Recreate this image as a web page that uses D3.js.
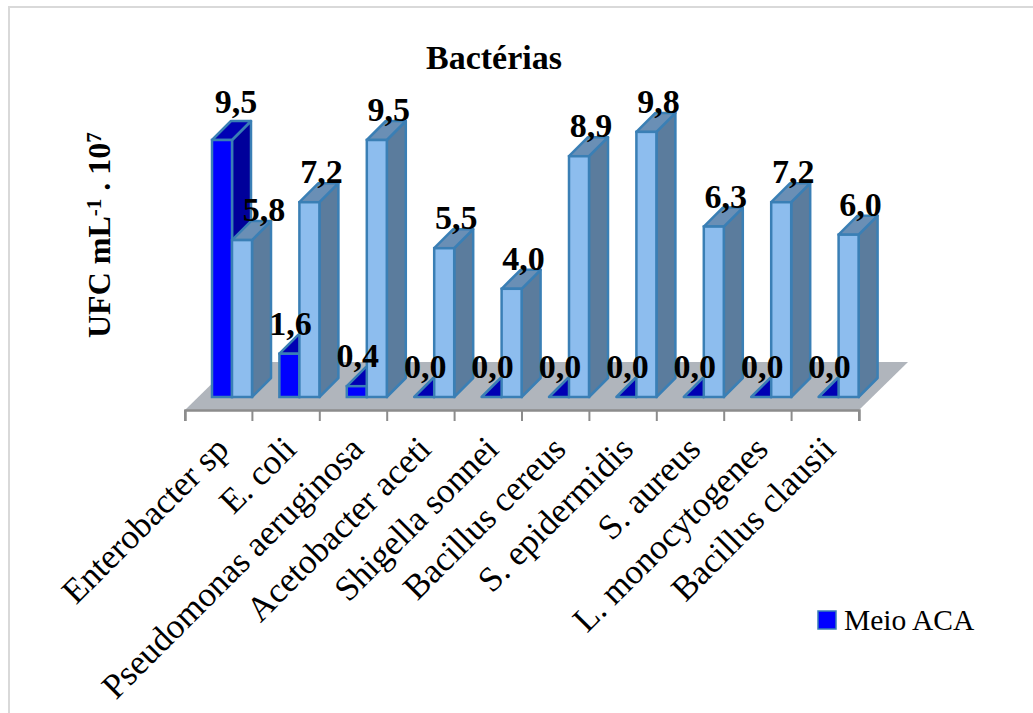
<!DOCTYPE html>
<html>
<head>
<meta charset="utf-8">
<script src="https://cdn.jsdelivr.net/npm/d3@7"></script>
<style>
  body { margin: 0; background: #fff; }
  text { font-family: "Liberation Serif", serif; fill: #000; }
</style>
</head>
<body>
<div class="chart"></div>
<script>
const categories = ['Enterobacter sp', 'E. coli', 'Pseudomonas aeruginosa', 'Acetobacter aceti', 'Shigella sonnei',
  'Bacillus cereus', 'S. epidermidis', 'S. aureus', 'L. monocytogenes', 'Bacillus clausii']
const meioAca = [9.5, 1.6, 0.4, 0, 0, 0, 0, 0, 0, 0]
const segundoMeio = [5.8, 7.2, 9.5, 5.5, 4.0, 8.9, 9.8, 6.3, 7.2, 6.0]

const width = 1033
const height = 713
const depth = { x: 19, y: 19 }
const fmt = v => v.toFixed(1).replace('.', ',')

const svg = d3.select('.chart').append('svg').attr('width', width).attr('height', height)
  .style('display', 'block')

// chart frame, cropped so only the top and left edges show
svg.append('path').attr('d', `M9,${height}V7H${width}`)
  .attr('fill', 'none').attr('stroke', '#d9d9d9').attr('stroke-width', 2)

const x = d3.scaleBand().domain(categories).range([185, 859])
const y = d3.scaleLinear().domain([0, 9.5]).range([397, 140])
const barW = 20

// floor of the 3d plot
const floor = d3.path()
floor.moveTo(185, 410)
floor.lineTo(859, 410)
floor.lineTo(908, 362)
floor.lineTo(234, 362)
floor.closePath()
svg.append('path').attr('d', floor).attr('fill', '#b0b5bc')

const xAxis = d3.axisBottom(x).tickSize(11).tickFormat('').tickValues([])
svg.append('g').attr('transform', 'translate(0,410)').call(xAxis)
  .call(g => g.select('.domain').attr('stroke', '#8c8c8c').attr('stroke-width', 2.5))
  .call(g => g.selectAll('.tk').data(categories.concat(['end'])).join('line').attr('class', 'tk')
    .attr('x1', (d, i) => 185 + i * x.step()).attr('x2', (d, i) => 185 + i * x.step())
    .attr('y1', 0).attr('y2', 11).attr('stroke', '#8c8c8c').attr('stroke-width', 2))

function bar3d(g, x0, value, front, top, side) {
  const yT = y(value)
  const yB = y(0)
  const stroke = '#3a7fb5'
  g.append('polygon')
    .attr('points', [[x0 + barW, yT], [x0 + barW + depth.x, yT - depth.y], [x0 + barW + depth.x, yB - depth.y], [x0 + barW, yB]].join(' '))
    .attr('fill', side).attr('stroke', stroke).attr('stroke-width', 2.5).attr('stroke-linejoin', 'round')
  g.append('polygon')
    .attr('points', [[x0, yT], [x0 + depth.x, yT - depth.y], [x0 + barW + depth.x, yT - depth.y], [x0 + barW, yT]].join(' '))
    .attr('fill', top).attr('stroke', stroke).attr('stroke-width', 2.5).attr('stroke-linejoin', 'round')
  g.append('rect').attr('x', x0).attr('y', yT).attr('width', barW).attr('height', yB - yT)
    .attr('fill', front).attr('stroke', stroke).attr('stroke-width', 2.5)
}

const bars = svg.append('g')
categories.forEach((c, i) => {
  const x0 = x(c) + 27
  bar3d(bars, x0, meioAca[i], '#0000ff', '#0000b4', '#00009a')
  bar3d(bars, x0 + barW, segundoMeio[i], '#8dbdee', '#6a8fb5', '#5b7c9d')
})

// the first two labels were dragged by hand in the original
const labels = svg.append('g').attr('text-anchor', 'middle').attr('font-weight', 'bold').attr('font-size', 34)
categories.forEach((c, i) => {
  const x0 = x(c) + 27
  const nudgeA = i === 0 ? { x: 14, y: -8 } : { x: 1, y: 0 }
  labels.append('text').attr('x', x0 + barW / 2 + nudgeA.x).attr('y', y(meioAca[i]) - 19 + nudgeA.y).text(fmt(meioAca[i]))
  const nudgeB = i === 0 ? { x: 22, y: 0 } : { x: 12, y: 0 }
  labels.append('text').attr('x', x0 + barW * 1.5 + nudgeB.x).attr('y', y(segundoMeio[i]) - 19 + nudgeB.y).text(fmt(segundoMeio[i]))
})

// rotated category labels
svg.append('g').selectAll('text').data(categories).join('text')
  .attr('text-anchor', 'end').attr('font-size', 35)
  .attr('transform', d => `translate(${x(d) + x.bandwidth() / 2 + 12},451) rotate(-45)`)
  .text(d => d)

svg.append('text').attr('x', 494).attr('y', 69).attr('text-anchor', 'middle')
  .attr('font-weight', 'bold').attr('font-size', 34).text('Bactérias')

const yTitle = svg.append('text').attr('transform', 'translate(110,338) rotate(-90)')
  .attr('font-weight', 'bold').attr('font-size', 32)
yTitle.append('tspan').text('UFC mL')
yTitle.append('tspan').attr('dy', -9).attr('font-size', 21).text('-1')
yTitle.append('tspan').attr('dy', 9).text(' . 10')
yTitle.append('tspan').attr('dy', -9).attr('font-size', 21).text('7')

// legend, only the first series is listed
svg.append('rect').attr('x', 818).attr('y', 611).attr('width', 18).attr('height', 18)
  .attr('fill', '#0000ff').attr('stroke', '#3a7fb5').attr('stroke-width', 1.5)
svg.append('text').attr('x', 844).attr('y', 630).attr('font-size', 29.5).text('Meio ACA')
</script>
</body>
</html>
